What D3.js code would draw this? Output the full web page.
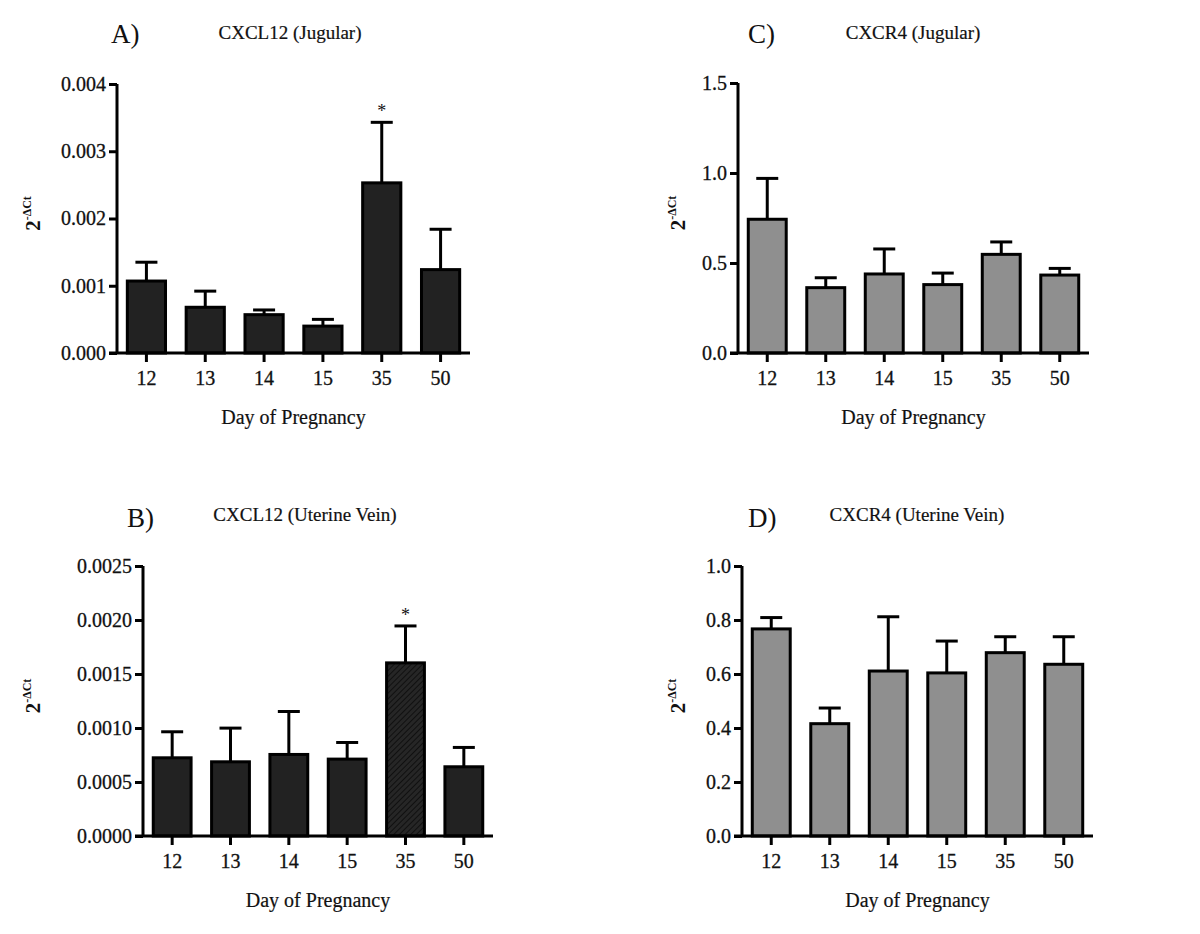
<!DOCTYPE html>
<html><head><meta charset="utf-8">
<script src="https://cdn.jsdelivr.net/npm/d3@7"></script>
<style>body{margin:0;background:#fff}svg{display:block}text{font-family:"Liberation Serif","DejaVu Serif",serif;fill:#111}</style>
</head><body>
<svg id="c" width="1200" height="934"></svg>
<script>
const categories = ["12","13","14","15","35","50"];
const aMeans = [0.00107,0.00068,0.00057,0.00040,0.00253,0.00124];
const aUpper = [0.00135,0.00092,0.00064,0.00050,0.00343,0.00184];
const aTicks = [0,0.001,0.002,0.003,0.004];
const aTickLabels = ["0.000","0.001","0.002","0.003","0.004"];
const bMeans = [0.000724,0.000687,0.000755,0.000712,0.001603,0.000641];
const bUpper = [0.000965,0.000999,0.001153,0.000866,0.001945,0.00082];
const bTicks = [0,0.0005,0.001,0.0015,0.002,0.0025];
const bTickLabels = ["0.0000","0.0005","0.0010","0.0015","0.0020","0.0025"];
const cMeans = [0.743,0.363,0.439,0.380,0.548,0.433];
const cUpper = [0.970,0.418,0.578,0.444,0.617,0.470];
const cTicks = [0,0.5,1.0,1.5];
const cTickLabels = ["0.0","0.5","1.0","1.5"];
const dMeans = [0.767,0.416,0.611,0.604,0.679,0.636];
const dUpper = [0.809,0.474,0.812,0.722,0.738,0.738];
const dTicks = [0,0.2,0.4,0.6,0.8,1.0];
const dTickLabels = ["0.0","0.2","0.4","0.6","0.8","1.0"];
const starred = ["35"];

const svg = d3.select("#c");
const defs = svg.append("defs");
const pat = defs.append("pattern").attr("id","hatch").attr("patternUnits","userSpaceOnUse")
  .attr("width",4).attr("height",4).attr("patternTransform","rotate(45)");
pat.append("rect").attr("width",4).attr("height",4).attr("fill","#262626");
pat.append("line").attr("x1",0).attr("y1",0).attr("x2",0).attr("y2",4).attr("stroke","#0a0a0a").attr("stroke-width",1.6);

const panels = [
  {letter:"A)", title:"CXCL12 (Jugular)", means:aMeans, upper:aUpper, ticks:aTicks, labels:aTickLabels, star:true,
   x0:117, x1:470, yTop:84, yBot:353, fill:"#222", hatch:false, titleX:290, titleY:39, letterX:111, letterY:43, ylabX:33},
  {letter:"B)", title:"CXCL12 (Uterine Vein)", means:bMeans, upper:bUpper, ticks:bTicks, labels:bTickLabels, star:true,
   x0:143, x1:493, yTop:566, yBot:836, fill:"#222", hatch:true, titleX:305, titleY:521, letterX:127, letterY:527, ylabX:33},
  {letter:"C)", title:"CXCR4 (Jugular)", means:cMeans, upper:cUpper, ticks:cTicks, labels:cTickLabels, star:false,
   x0:738, x1:1089, yTop:83, yBot:353, fill:"#8f8f8f", hatch:false, titleX:913, titleY:39, letterX:748, letterY:43, ylabX:678},
  {letter:"D)", title:"CXCR4 (Uterine Vein)", means:dMeans, upper:dUpper, ticks:dTicks, labels:dTickLabels, star:false,
   x0:742, x1:1093, yTop:566, yBot:836, fill:"#8f8f8f", hatch:false, titleX:917, titleY:521, letterX:748, letterY:527, ylabX:678}
];

panels.forEach(p => {
  const g = svg.append("g");
  const x = d3.scaleBand().domain(categories).range([p.x0, p.x1]).paddingInner(0.3).paddingOuter(0.15);
  const y = d3.scaleLinear().domain([p.ticks[0], p.ticks[p.ticks.length-1]]).range([p.yBot, p.yTop]);
  const data = categories.map((c,i)=>({c, m:p.means[i], u:p.upper[i]}));
  const bw = x.bandwidth();
  g.selectAll(".eb").data(data).join("line")
    .attr("x1",d=>x(d.c)+bw/2).attr("x2",d=>x(d.c)+bw/2)
    .attr("y1",d=>y(d.m)).attr("y2",d=>y(d.u)).attr("stroke","#000").attr("stroke-width",3);
  g.selectAll(".cap").data(data).join("line")
    .attr("x1",d=>x(d.c)+bw/2-11).attr("x2",d=>x(d.c)+bw/2+11)
    .attr("y1",d=>y(d.u)).attr("y2",d=>y(d.u)).attr("stroke","#000").attr("stroke-width",3);
  g.selectAll(".bar").data(data).join("rect")
    .attr("x",d=>x(d.c)+1.5).attr("width",bw-3)
    .attr("y",d=>y(d.m)).attr("height",d=>y(0)-y(d.m))
    .attr("fill",d=>(p.hatch && starred.includes(d.c)) ? "url(#hatch)" : p.fill)
    .attr("stroke","#000").attr("stroke-width",3);
  if (p.star) {
    g.selectAll(".star").data(data.filter(d=>starred.includes(d.c))).join("text")
      .attr("x",d=>x(d.c)+bw/2).attr("y",d=>y(d.u)-5).attr("text-anchor","middle")
      .attr("font-size",18).text("*");
  }
  const ya = d3.axisLeft(y).tickValues(p.ticks).tickFormat((d,i)=>p.labels[i]).tickSize(8).tickPadding(3);
  const yg = g.append("g").attr("transform",`translate(${p.x0},0)`).call(ya);
  yg.select(".domain").attr("stroke-width",3).attr("d",`M0,${p.yTop}V${p.yBot}`);
  yg.selectAll(".tick line").attr("stroke-width",3);
  yg.selectAll(".tick text").attr("font-size",20).attr("font-family","Liberation Serif").attr("fill","#111")
    .attr("stroke","#111").attr("stroke-width",0.3);
  const xa = d3.axisBottom(x).tickSize(9).tickPadding(9);
  const xg = g.append("g").attr("transform",`translate(0,${p.yBot})`).call(xa);
  xg.select(".domain").attr("stroke-width",3).attr("d",`M${p.x0-8},0H${p.x1}`);
  xg.selectAll(".tick line").attr("stroke-width",3);
  xg.selectAll(".tick text").attr("font-size",20).attr("font-family","Liberation Serif").attr("fill","#111")
    .attr("stroke","#111").attr("stroke-width",0.3);
  g.append("text").attr("x",(p.x0+p.x1)/2).attr("y",p.yBot+71).attr("text-anchor","middle")
    .attr("font-size",20).attr("stroke","#111").attr("stroke-width",0.2).text("Day of Pregnancy");
  const yl = g.append("text").attr("transform",`translate(${p.ylabX+7},${(p.yTop+p.yBot)/2 - 5}) rotate(-90)`)
    .attr("text-anchor","middle").attr("font-weight","bold").attr("font-size",21);
  yl.append("tspan").text("2");
  yl.append("tspan").attr("font-size",12).attr("dy",-9).text("-ΔCt");
  g.append("text").attr("x",p.titleX).attr("y",p.titleY).attr("text-anchor","middle").attr("font-size",19)
    .attr("stroke","#111").attr("stroke-width",0.2).text(p.title);
  g.append("text").attr("x",p.letterX).attr("y",p.letterY).attr("font-size",27).text(p.letter);
});
</script>
</body></html>
